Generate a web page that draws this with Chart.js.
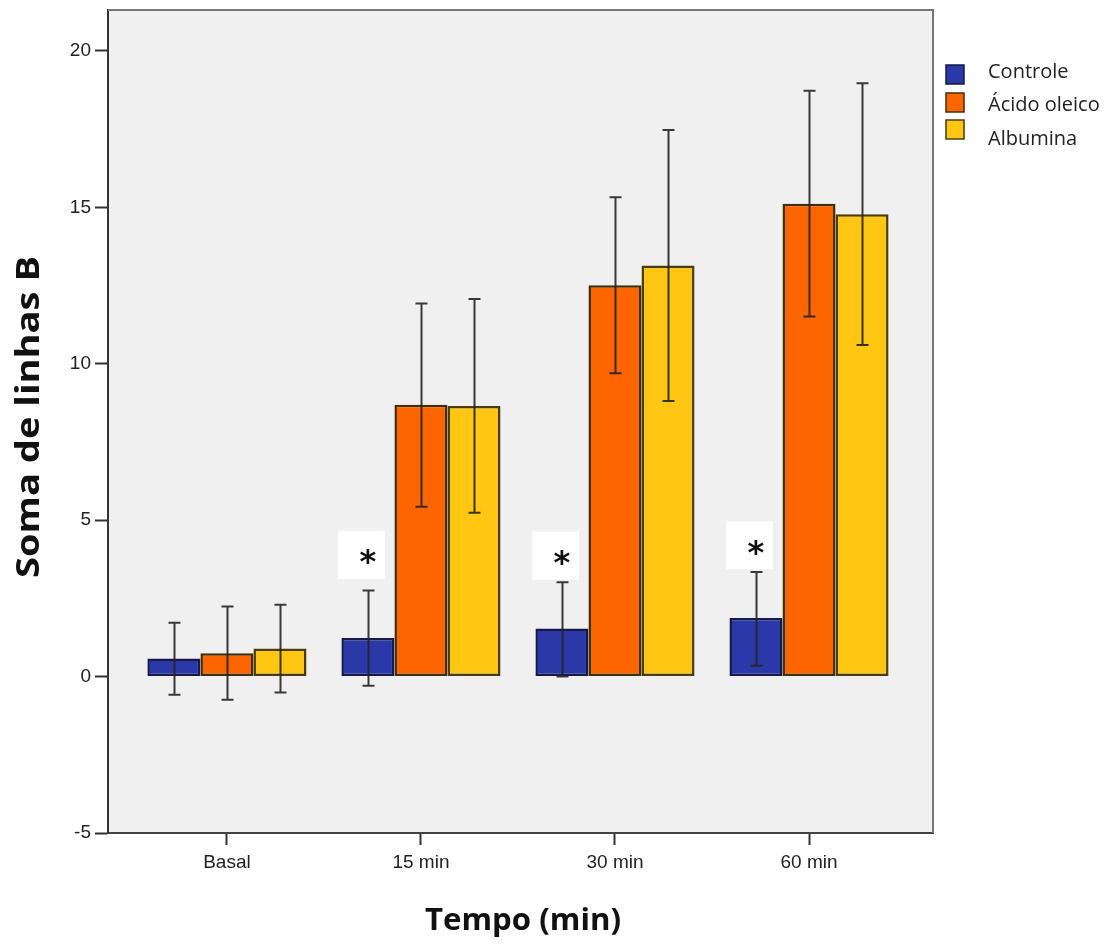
<!DOCTYPE html>
<html>
<head>
<meta charset="utf-8">
<script src="https://cdn.jsdelivr.net/npm/chart.js@4"></script>
<style>
    body { margin: 0; background: #fff; }
    #wrap { width: 1117px; height: 945px; }
</style>
</head>
<body>
<div id="wrap"><canvas id="chart" width="1117" height="945"></canvas></div>
<script>
// Chart data
const categories = ['Basal', '15 min', '30 min', '60 min'];
const yTicks = [-5, 0, 5, 10, 15, 20];

const controle = [0.58, 1.23, 1.54, 1.87];
const acido = [0.75, 8.69, 12.51, 15.12];
const albumina = [0.90, 8.65, 13.14, 14.78];

const controleHi = [1.72, 2.75, 3.02, 3.34];
const controleLo = [-0.58, -0.29, 0.00, 0.35];
const acidoHi = [2.24, 11.93, 15.32, 18.73];
const acidoLo = [-0.74, 5.43, 9.70, 11.51];
const albuminaHi = [2.30, 12.07, 17.47, 18.97];
const albuminaLo = [-0.51, 5.24, 8.81, 10.60];

// bottom of the white "*" box, in axis units (null = no mark)
const starBase = [null, 3.12, 3.10, 3.43];

const seriesNames = ['Controle', 'Ácido oleico', 'Albumina'];
const seriesColors = ['#2b39a8', '#fd6500', '#ffc614'];
const seriesBorders = ['#17194a', '#3f300a', '#4a3c0c'];

const highs = [controleHi, acidoHi, albuminaHi];
const lows = [controleLo, acidoLo, albuminaLo];

function toPoints(values) {
    return values.map((v, i) => ({ x: i, y: v }));
}

// draw text squeezed/stretched to a given width
function fitText(ctx, text, x, y, width) {
    const w = ctx.measureText(text).width;
    ctx.save();
    ctx.translate(x, y);
    ctx.scale(width / w, 1);
    ctx.fillText(text, 0, 0);
    ctx.restore();
}

// plot background + frame
const framePlugin = {
    id: 'frame',
    beforeDraw(chart) {
        const { ctx, chartArea: a } = chart;
        ctx.save();
        ctx.fillStyle = '#f0f0f0';
        ctx.fillRect(a.left, a.top, a.right - a.left, a.bottom - a.top);
        ctx.restore();
    },
    afterDraw(chart) {
        const { ctx, chartArea: a } = chart;
        ctx.save();
        ctx.strokeStyle = '#777';
        ctx.lineWidth = 2;
        ctx.beginPath();
        ctx.moveTo(a.left, a.top);
        ctx.lineTo(a.right, a.top);
        ctx.lineTo(a.right, a.bottom);
        ctx.stroke();

        // axis titles
        ctx.fillStyle = '#111';
        ctx.font = 'bold 31px "Open Sans"';
        ctx.textAlign = 'center';
        ctx.textBaseline = 'middle';
        fitText(ctx, 'Tempo (min)', 523, 921, 196);
        ctx.translate(30, 417);
        ctx.rotate(-Math.PI / 2);
        ctx.font = 'bold 32px "Open Sans"';
        fitText(ctx, 'Soma de linhas B', 0, 0, 322);
        ctx.restore();

        // legend
        ctx.save();
        ctx.font = '20px "Open Sans"';
        ctx.textAlign = 'left';
        ctx.textBaseline = 'middle';
        const boxY = [65, 93, 120];
        const textY = [72, 105, 139];
        seriesNames.forEach((name, i) => {
            ctx.fillStyle = seriesColors[i];
            ctx.fillRect(946, boxY[i], 18, 19);
            ctx.strokeStyle = seriesBorders[i];
            ctx.lineWidth = 1.5;
            ctx.strokeRect(946, boxY[i], 18, 19);
            ctx.fillStyle = '#222';
            ctx.fillText(name, 988, textY[i]);
        });
        ctx.restore();
    }
};

// error bars and significance marks
const errorBarPlugin = {
    id: 'errorBars',
    afterDatasetsDraw(chart) {
        const { ctx } = chart;
        const yScale = chart.scales.y;
        ctx.save();
        ctx.strokeStyle = 'rgba(35,35,35,0.9)';
        ctx.lineWidth = 2;
        chart.data.datasets.forEach((ds, i) => {
            const meta = chart.getDatasetMeta(i);
            meta.data.forEach((bar, j) => {
                const yHi = yScale.getPixelForValue(highs[i][j]);
                const yLo = yScale.getPixelForValue(lows[i][j]);
                const x = Math.round(bar.x) + 0.5;
                ctx.beginPath();
                ctx.moveTo(x, yHi);
                ctx.lineTo(x, yLo);
                ctx.moveTo(x - 6, yHi);
                ctx.lineTo(x + 6, yHi);
                ctx.moveTo(x - 6, yLo);
                ctx.lineTo(x + 6, yLo);
                ctx.stroke();
            });
        });

        const ctrlMeta = chart.getDatasetMeta(0);
        ctx.textAlign = 'center';
        ctx.textBaseline = 'middle';
        ctx.font = 'bold 32px "DejaVu Sans"';
        starBase.forEach((v, j) => {
            if (v === null) return;
            const x = ctrlMeta.data[j].x;
            const yb = yScale.getPixelForValue(v);
            ctx.fillStyle = '#ffffff';
            ctx.fillRect(x - 30, yb - 48, 47, 48);
            ctx.fillStyle = '#111';
            ctx.fillText('*', x, yb - 15);
        });
        ctx.restore();
    }
};

const ctx = document.getElementById('chart').getContext('2d');

new Chart(ctx, {
    type: 'bar',
    data: {
        datasets: seriesNames.map((name, i) => ({
            label: name,
            data: toPoints([controle, acido, albumina][i]),
            backgroundColor: seriesColors[i],
            borderColor: seriesBorders[i],
            borderWidth: 2.5,
            borderSkipped: false,
            categoryPercentage: 0.82,
            barPercentage: 1.0
        }))
    },
    options: {
        responsive: false,
        animation: false,
        layout: {
            padding: { top: 10, right: 184, left: 0, bottom: 0 }
        },
        plugins: {
            legend: { display: false },
            tooltip: { enabled: false }
        },
        scales: {
            x: {
                type: 'linear',
                min: -0.613,
                max: 3.639,
                offset: false,
                afterFit: s => { s.height = 112; s.paddingLeft = 0; s.paddingRight = 0; },
                afterBuildTicks: s => { s.ticks = categories.map((c, i) => ({ value: i })); },
                ticks: {
                    callback: v => categories[v],
                    font: { family: 'Liberation Sans', size: 19 },
                    color: '#222',
                    padding: 6,
                    maxRotation: 0
                },
                grid: {
                    offset: false,
                    drawOnChartArea: false,
                    tickLength: 12,
                    tickColor: '#333',
                    tickWidth: 2
                },
                border: { color: '#444', width: 2 }
            },
            y: {
                min: -5,
                max: 21.31,
                afterFit: s => { s.width = 108; s.paddingTop = 0; s.paddingBottom = 0; },
                afterBuildTicks: s => { s.ticks = yTicks.map(v => ({ value: v })); },
                ticks: {
                    font: { family: 'Liberation Sans', size: 19 },
                    color: '#222',
                    padding: 4
                },
                grid: {
                    drawOnChartArea: false,
                    tickLength: 13,
                    tickColor: '#333',
                    tickWidth: 2
                },
                border: { color: '#333', width: 2 }
            }
        }
    },
    plugins: [framePlugin, errorBarPlugin]
});
</script>
</body>
</html>
